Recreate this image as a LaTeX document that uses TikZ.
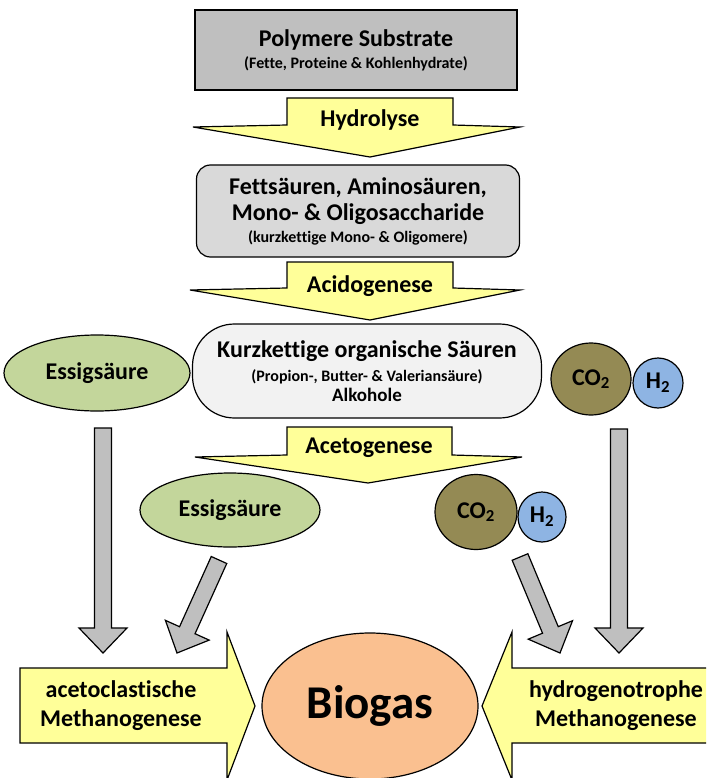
\documentclass[tikz,border=0pt]{standalone}
\usepackage{fontspec}
\setmainfont[Ligatures=NoCommon]{Carlito}
\usetikzlibrary{calc,shapes.geometric}

\definecolor{substrategray}{RGB}{191,191,191}
\definecolor{monogray}{RGB}{217,217,217}
\definecolor{acidgray}{RGB}{242,242,242}
\definecolor{stepyellow}{RGB}{255,255,153}
\definecolor{acetgreen}{RGB}{195,214,155}
\definecolor{cotwo}{RGB}{148,138,84}
\definecolor{htwo}{RGB}{142,180,227}
\definecolor{gasorange}{RGB}{250,192,144}
\definecolor{flowgray}{RGB}{191,191,191}

\tikzset{
  lined/.style={draw=black, line width=1.2pt},
  bigstep/.style={lined, fill=stepyellow, line join=miter},
  steptext/.style={anchor=base, font=\bfseries\fontsize{24}{28}\selectfont},
  molecule/.style={lined, ellipse, inner sep=0pt, font=\bfseries\fontsize{24}{28}\selectfont},
  grayflow/.style={lined, fill=flowgray, line join=miter},
}

\newcommand{\flowarrow}[2]{%
  \coordinate (fh) at ($(#2)!25pt!(#1)$);
  \draw[grayflow] ($(#1)!8.5pt!90:(#2)$) -- ($(fh)!8.5pt!90:(#2)$)
    -- ($(fh)!24pt!90:(#2)$) -- (#2) -- ($(fh)!24pt!-90:(#2)$)
    -- ($(fh)!8.5pt!-90:(#2)$) -- ($(#1)!8.5pt!-90:(#2)$) -- cycle;
}

\begin{document}
\begin{tikzpicture}[x=1pt,y=-1pt]
        \useasboundingbox (0,0) rectangle (706,778);
        \clip (0,0) rectangle (706,778);

        \node[lined, fill=substrategray, minimum width=322pt, minimum height=80pt, align=center, font=\bfseries\fontsize{24}{22}\selectfont] (poly) at (356,50) {Polymere Substrate\\{\fontsize{16}{19}\selectfont (Fette, Proteine \& Kohlenhydrate)}};
        \node[lined, fill=monogray, rounded corners=14pt, minimum width=323pt, minimum height=92pt, align=center, font=\bfseries\fontsize{24}{26}\selectfont] (mono) at (358,211) {Fettsäuren, Aminosäuren,\\Mono- \& Oligosaccharide\\[-4pt]{\fontsize{16}{19}\selectfont (kurzkettige Mono- \& Oligomere)}};
        \node[lined, fill=acidgray, rounded corners=42pt, minimum width=349pt, minimum height=94pt, align=center, font=\bfseries\fontsize{24}{24}\selectfont] (acids) at (367,371) {Kurzkettige organische Säuren\\{\fontsize{16}{19}\selectfont (Propion-, Butter- \& Valeriansäure)}\\[-4pt]{\fontsize{19}{20}\selectfont Alkohole}};

        \draw[bigstep] (287,98) -- (453,98) -- (453,125) -- (520,127) -- (370,157) -- (193,127) -- (287,125) -- cycle;
        \node[steptext] (hydro) at (370,127) {Hydrolyse};
        \draw[bigstep] (287,262) -- (453,262) -- (453,288) -- (520,290) -- (370,320) -- (190,290) -- (287,288) -- cycle;
        \node[steptext] (acido) at (370,292) {Acidogenese};
        \draw[bigstep] (287,427) -- (452,427) -- (452,455) -- (522,457) -- (368,483) -- (195,457) -- (287,455) -- cycle;
        \node[steptext] (aceto) at (369,453) {Acetogenese};

        \node[molecule, fill=acetgreen, minimum width=186pt, minimum height=76pt] (essL) at (97,373) {Essigsäure};
        \node[molecule, fill=cotwo, minimum width=80pt, minimum height=72pt] (coL) at (591,379) {CO\textsubscript{2}};
        \node[molecule, fill=htwo, minimum width=50pt, minimum height=50pt] (hL) at (658,383) {H\textsubscript{2}};
        \node[molecule, fill=acetgreen, minimum width=180pt, minimum height=74pt] (essM) at (230,510) {Essigsäure};
        \node[molecule, fill=cotwo, minimum width=82pt, minimum height=75pt] (coM) at (476,512) {CO\textsubscript{2}};
        \node[molecule, fill=htwo, minimum width=48pt, minimum height=50pt] (hM) at (542,517) {H\textsubscript{2}};

        \coordinate (aL0) at (103,428);
        \coordinate (aL1) at (103,653);
        \coordinate (aM0) at (219,560);
        \coordinate (aM1) at (177,653);
        \coordinate (hM0) at (520,557);
        \coordinate (hM1) at (560,653);
        \coordinate (hR0) at (619,429);
        \coordinate (hR1) at (619,653);
        \flowarrow{aL0}{aL1}
        \flowarrow{aM0}{aM1}
        \flowarrow{hM0}{hM1}
        \flowarrow{hR0}{hR1}

        \draw[bigstep] (20,668) -- (227,668) -- (227,632) -- (255,706) -- (227,780) -- (227,743) -- (20,743) -- cycle;
        \node[align=center, font=\bfseries\fontsize{24}{29}\selectfont] (acclast) at (121,706) {acetoclastische\\Methanogenese};
        \draw[bigstep] (720,668) -- (512,668) -- (512,632) -- (482,706) -- (512,780) -- (512,743) -- (720,743) -- cycle;
        \node[align=center, font=\bfseries\fontsize{24}{29}\selectfont] (hydrotroph) at (616,706) {hydrogenotrophe\\Methanogenese};

        \node[molecule, fill=gasorange, minimum width=216pt, minimum height=146pt, font=\bfseries\fontsize{47}{50}\selectfont] (biogas) at (370,706) {Biogas};
    \end{tikzpicture}
\end{document}
